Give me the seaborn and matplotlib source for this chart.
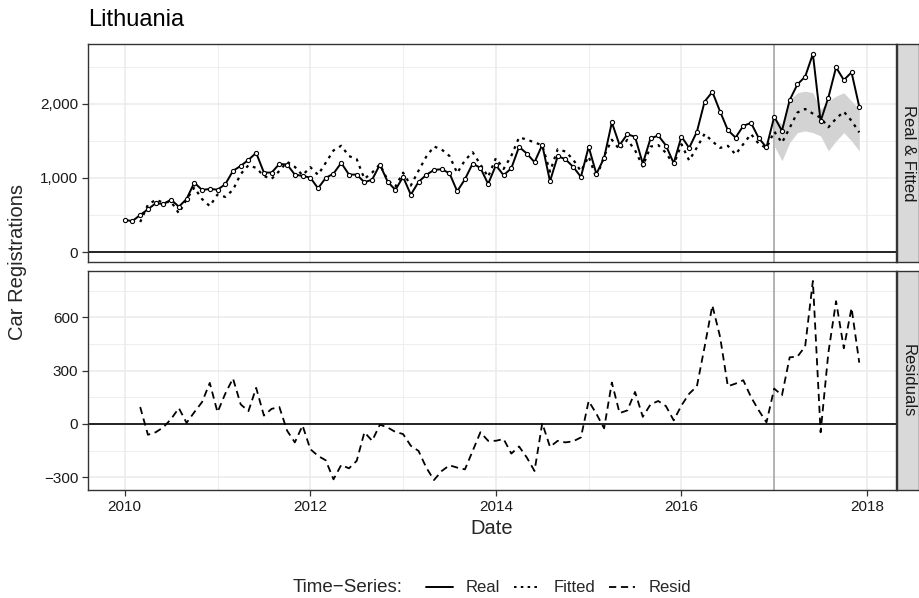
import matplotlib
matplotlib.use("Agg")
import matplotlib.pyplot as plt
from matplotlib.lines import Line2D
from matplotlib.ticker import FixedLocator, FuncFormatter
import seaborn as sns
import numpy as np
import pandas as pd

# monthly series, Jan 2010 .. Dec 2017
real = [432, 419, 500, 577, 658, 649, 707, 612, 716, 937, 838, 851,
        842, 914, 1095, 1162, 1243, 1338, 1072, 1072, 1189, 1180, 1045, 1027,
        1004, 861, 1000, 1058, 1203, 1045, 1045, 941, 977, 1180, 950, 838,
        1014, 774, 946, 1041, 1108, 1117, 1063, 820, 982, 1194, 1135, 919,
        1171, 1036, 1131, 1419, 1329, 1212, 1446, 955, 1293, 1252, 1149, 1014,
        1419, 1054, 1270, 1748, 1442, 1590, 1554, 1194, 1532, 1572, 1437, 1198,
        1558, 1405, 1622, 2030, 2160, 1895, 1645, 1544, 1702, 1742, 1536, 1412,
        1825, 1635, 2050, 2261, 2365, 2672, 1766, 2083, 2491, 2320, 2423, 1959]

# fitted and residuals start in Mar 2010
fitted = [405, 638, 705, 668, 679, 523, 710, 871, 715, 620,
          776, 744, 839, 1052, 1171, 1135, 1025, 987, 1094, 1218, 1149, 1036,
          1146, 1041, 1205, 1370, 1434, 1295, 1253, 988, 1072, 1184, 970, 883,
          1071, 897, 1098, 1287, 1424, 1382, 1296, 1066, 1238, 1346, 1182, 1014,
          1266, 1121, 1298, 1546, 1518, 1477, 1442, 1084, 1388, 1356, 1247, 1090,
          1290, 997, 1295, 1515, 1381, 1514, 1374, 1154, 1422, 1443, 1337, 1178,
          1454, 1235, 1410, 1595, 1493, 1405, 1433, 1317, 1456, 1591, 1460, 1403,
          1626, 1474, 1675, 1882, 1929, 1867, 1813, 1683, 1800, 1894, 1770, 1614]

resid = [95, -61, -47, -19, 28, 89, 6, 66, 123, 231,
         66, 170, 256, 110, 72, 203, 47, 85, 95, -38, -104, -9,
         -142, -180, -205, -312, -231, -250, -208, -47, -95, -4, -20, -45,
         -57, -123, -152, -246, -316, -265, -233, -246, -256, -152, -47, -95,
         -95, -85, -167, -127, -189, -265, 4, -129, -95, -104, -98, -76,
         129, 57, -25, 233, 61, 76, 180, 40, 110, 129, 100, 20,
         104, 170, 212, 435, 667, 490, 212, 227, 246, 151, 76, 9,
         199, 161, 375, 379, 436, 805, -47, 400, 691, 426, 653, 345]

# forecast band for 2017
band_lo = [1432, 1231, 1477, 1611, 1634, 1611, 1566, 1365, 1499, 1611, 1499, 1365]
band_hi = [1812, 1723, 2059, 2148, 2170, 2148, 1925, 2036, 2103, 2148, 2036, 1925]

start_year = 2010
split_year = 2017

t = start_year + np.arange(len(real)) / 12
t_fit = t[len(real) - len(fitted):]
t_band = t[len(real) - len(band_lo):]

sns.set_theme(style="white")
plt.rcParams["font.family"] = ["Liberation Sans", "DejaVu Sans"]

fig = plt.figure(figsize=(9.19, 5.98), dpi=100)
W, H = 919, 598


def box(x0, y0, x1, y1):
    return [x0 / W, 1 - y1 / H, (x1 - x0) / W, (y1 - y0) / H]


ax1 = fig.add_axes(box(88, 44, 896, 262))
ax2 = fig.add_axes(box(88, 271, 896, 490), sharex=ax1)

GRID = "#EBEBEB"
EDGE = "#333333"
DOTS = (0, (1.3, 2.2))
DASH = (0, (4, 2.6))

ax1.fill_between(t_band, band_lo, band_hi, color="#D3D3D3", lw=0, zorder=2)
sns.lineplot(x=t_fit, y=fitted, ax=ax1, color="black", lw=1.6,
             linestyle=DOTS, zorder=3)
sns.lineplot(x=t, y=real, ax=ax1, color="black", lw=1.4, marker="o",
             markersize=3, markerfacecolor="white", markeredgecolor="black",
             markeredgewidth=0.8, zorder=4)
sns.lineplot(x=t_fit, y=resid, ax=ax2, color="black", lw=1.3,
             linestyle=DASH, zorder=3)

for ax in (ax1, ax2):
    ax.axhline(0, color="black", lw=1.2, zorder=2.5)
    ax.axvline(split_year, color="#A8A8A8", lw=1.2, zorder=1.5)
    ax.set_facecolor("white")
    for s in ax.spines.values():
        s.set_color(EDGE)
        s.set_linewidth(1.0)
    ax.set_xlabel("")
    ax.set_ylabel("")
    ax.grid(True, which="major", color=GRID, lw=1.1, zorder=0)
    ax.grid(True, which="minor", color=GRID, lw=0.6, zorder=0)
    ax.set_axisbelow(True)
    ax.tick_params(axis="both", which="major", length=4, width=0.9,
                   color=EDGE, labelsize=11, labelcolor="#1A1A1A", pad=3)
    ax.tick_params(which="minor", length=0)

# x range with 5% expansion
span = t[-1] - t[0]
ax1.set_xlim(t[0] - 0.05 * span, t[-1] + 0.05 * span)
ax2.xaxis.set_major_locator(FixedLocator([2010, 2012, 2014, 2016, 2018]))
ax2.xaxis.set_minor_locator(FixedLocator([2011, 2013, 2015, 2017]))
ax2.xaxis.set_major_formatter(FuncFormatter(lambda v, p: f"{int(round(v))}"))
ax1.tick_params(axis="x", which="both", bottom=False, labelbottom=False)
ax2.tick_params(axis="x", bottom=True, direction="out")
ax2.tick_params(axis="y", left=True, direction="out")
ax1.tick_params(axis="y", left=True, direction="out")

top_hi = max(real)
ax1.set_ylim(0 - 0.05 * top_hi, top_hi * 1.05)
ax1.yaxis.set_major_locator(FixedLocator([0, 1000, 2000]))
ax1.yaxis.set_minor_locator(FixedLocator([500, 1500, 2500]))
ax1.yaxis.set_major_formatter(FuncFormatter(lambda v, p: f"{int(v):,}"))

r_lo, r_hi = min(resid), max(resid)
r_pad = 0.05 * (r_hi - r_lo)
ax2.set_ylim(r_lo - r_pad, r_hi + r_pad)
ax2.yaxis.set_major_locator(FixedLocator([-300, 0, 300, 600]))
ax2.yaxis.set_minor_locator(FixedLocator([-150, 150, 450, 750]))
ax2.yaxis.set_major_formatter(
    FuncFormatter(lambda v, p: f"{int(v)}".replace("-", "\u2212")))

# facet strips
for (y0, y1), label in [((44, 262), "Real & Fitted"), ((271, 490), "Residuals")]:
    sax = fig.add_axes(box(897, y0, 919, y1))
    sax.set_facecolor("#D9D9D9")
    sax.set_xticks([])
    sax.set_yticks([])
    for s in sax.spines.values():
        s.set_color(EDGE)
        s.set_linewidth(1.0)
    sax.text(0.5, 0.5, label, rotation=-90, ha="center", va="center",
             fontsize=12, color="#1A1A1A", transform=sax.transAxes)

fig.text(88 / W, 1 - 20 / H, "Lithuania", fontsize=17, ha="left",
         va="center", color="black")
fig.text(18 / W, 1 - 262 / H, "Car Registrations", rotation=90, fontsize=14.5,
         ha="center", va="center")
fig.text(492 / W, 1 - 529 / H, "Date", fontsize=14.5, ha="center", va="center")

# legend
fig.text(293 / W, 1 - 588 / H, "Time\u2212Series:", fontsize=13.5, ha="left",
         va="center")
handles = [
    Line2D([], [], color="black", lw=1.4, linestyle="-"),
    Line2D([], [], color="black", lw=1.4, linestyle=DOTS),
    Line2D([], [], color="black", lw=1.3, linestyle=DASH),
]
fig.legend(handles, ["Real", "Fitted", "Resid"], ncol=3, frameon=False,
           loc="center left", bbox_to_anchor=(426 / W, 1 - 588 / H),
           fontsize=12, handlelength=1.6, handletextpad=0.8, columnspacing=0.8,
           borderaxespad=0, borderpad=0)

fig.savefig("out.png", dpi=100)
